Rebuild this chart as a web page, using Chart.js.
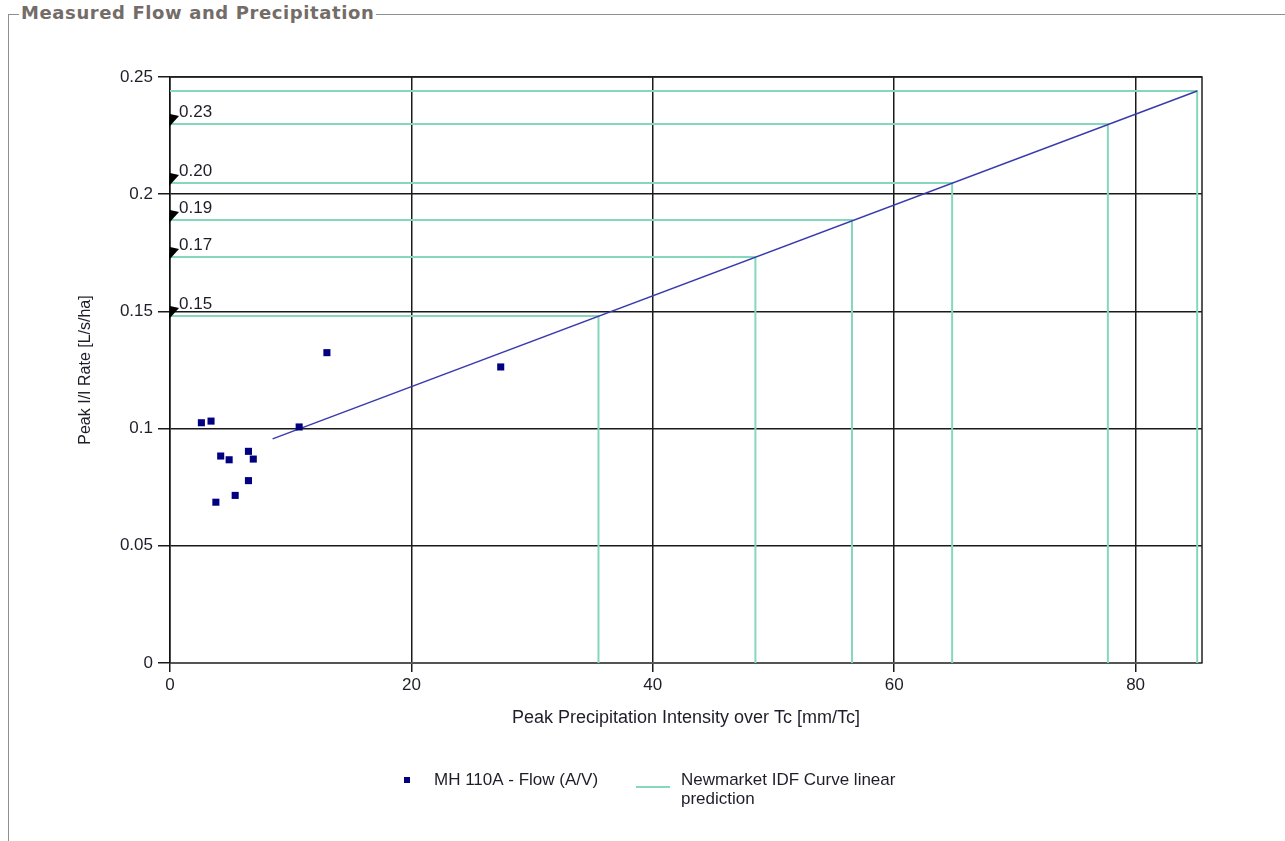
<!DOCTYPE html>
<html>
<head>
<meta charset="utf-8">
<script src="https://cdn.jsdelivr.net/npm/chart.js@4.4.1/dist/chart.umd.min.js"></script>
<style>
  html, body { margin:0; padding:0; background:#fff; }
  body { width:1285px; height:841px; overflow:hidden; position:relative; }
  .fs { position:absolute; left:8px; top:14px; width:1300px; height:860px;
        border-top:1px solid #8f8f8f; border-left:1px solid #8f8f8f; }
  .fs-title { position:absolute; left:19px; top:3px; padding:0 2px; background:#fff;
        font:bold 18px "DejaVu Sans", Verdana, sans-serif; letter-spacing:0.6px; color:#746c67; line-height:20px; }
  #c { position:absolute; left:0; top:0; }
</style>
</head>
<body>
<div class="fs"></div>
<div class="fs-title">Measured Flow and Precipitation</div>
<canvas id="c" width="1285" height="841"></canvas>
<script>
// ---- data ----
const flowLabel = 'MH 110A - Flow (A/V)';
const flowX = [2.6, 3.4, 13.0, 10.7, 4.2, 4.9, 6.5, 6.9, 6.5, 5.4, 3.8, 27.4];
const flowY = [0.1025, 0.1032, 0.1324, 0.1007, 0.0883, 0.0867, 0.0903, 0.0870, 0.0778, 0.0715, 0.0686, 0.1263];

const idfLabel = ['Newmarket IDF Curve linear', 'prediction'];
const idfX = [35.5, 48.5, 56.5, 64.8, 77.7, 85.1];
const idfY = [0.148, 0.1732, 0.189, 0.2048, 0.230, 0.244];

const trendX = [8.5, 85.1];
const trendY = [0.0956, 0.244];

const markY = [0.230, 0.2048, 0.189, 0.1732, 0.148];
const markText = ['0.23', '0.20', '0.19', '0.17', '0.15'];

const xTicks = [0, 20, 40, 60, 80];
const yTicks = [0, 0.05, 0.1, 0.15, 0.2, 0.25];

const xTitle = 'Peak Precipitation Intensity over Tc [mm/Tc]';
const yTitle = 'Peak I/I Rate [L/s/ha]';

// ---- build library data ----
const flowData = flowX.map((x, i) => ({x: x, y: flowY[i]}));
const idfData = [];
idfX.forEach((x, i) => {
  idfData.push({x: 0, y: idfY[i]}, {x: x, y: idfY[i]}, {x: x, y: 0}, {x: x, y: null});
});
const trendData = trendX.map((x, i) => ({x: x, y: trendY[i]}));

const FONT = '"Liberation Sans", Arial, sans-serif';
const NAVY = '#000080';
const GREEN = '#84d9bb';
const BLUE = '#3a3aae';
const TXT = '#1e1e2a';

const overlay = {
  id: 'overlay',
  beforeDatasetsDraw(chart) {
    const {ctx, chartArea: a} = chart;
    ctx.save();
    ctx.strokeStyle = '#222';
    ctx.lineWidth = 1.5;
    ctx.beginPath();
    ctx.moveTo(a.left, a.top);
    ctx.lineTo(a.right, a.top);
    ctx.lineTo(a.right, a.bottom);
    ctx.stroke();
    ctx.restore();
  },
  afterDatasetsDraw(chart) {
    const {ctx} = chart;
    const xs = chart.scales.x, ys = chart.scales.y;
    ctx.save();
    markY.forEach((v, i) => {
      const px = xs.getPixelForValue(0);
      const py = ys.getPixelForValue(v);
      ctx.fillStyle = '#000';
      ctx.beginPath();
      ctx.moveTo(px - 1, py + 3);
      ctx.lineTo(px, py - 10);
      ctx.lineTo(px + 9, py - 8);
      ctx.closePath();
      ctx.fill();
      ctx.font = '17px ' + FONT;
      ctx.fillStyle = TXT;
      ctx.textAlign = 'left';
      ctx.textBaseline = 'middle';
      ctx.fillText(markText[i], px + 9, py - 12);
    });
    ctx.restore();
  },
  afterDraw(chart) {
    const {ctx} = chart;
    ctx.save();
    ctx.font = '17px ' + FONT;
    ctx.textBaseline = 'middle';
    ctx.textAlign = 'left';
    // item 1: scatter
    ctx.fillStyle = NAVY;
    ctx.fillRect(404, 777, 6, 6);
    ctx.fillStyle = TXT;
    ctx.fillText(chart.data.datasets[0].label, 434, 780);
    // item 2: line
    ctx.strokeStyle = GREEN;
    ctx.lineWidth = 2;
    ctx.beginPath();
    ctx.moveTo(636, 787);
    ctx.lineTo(670, 787);
    ctx.stroke();
    ctx.fillStyle = TXT;
    const lbl = chart.data.datasets[1].label;
    lbl.forEach((t, i) => ctx.fillText(t, 681, 780 + i * 19));
    ctx.restore();
  }
};

new Chart(document.getElementById('c'), {
  type: 'scatter',
  data: {
    datasets: [
      { label: flowLabel, data: flowData, pointStyle: 'rect', pointRadius: 5, pointHoverRadius: 5,
        backgroundColor: NAVY, borderColor: NAVY, borderWidth: 0, order: 0 },
      { label: idfLabel, data: idfData, showLine: true, spanGaps: false, borderColor: GREEN,
        borderWidth: 2, pointRadius: 0, fill: false, order: 2 },
      { label: 'trend', data: trendData, showLine: true, borderColor: BLUE, borderWidth: 1.5,
        pointRadius: 0, fill: false, order: 1 }
    ]
  },
  options: {
    responsive: false,
    animation: false,
    devicePixelRatio: 1,
    layout: { padding: { left: 72, top: 77, right: 83, bottom: 108 } },
    plugins: { legend: { display: false }, tooltip: { enabled: false } },
    scales: {
      x: {
        type: 'linear', min: 0, max: 85.5,
        afterBuildTicks: s => { s.ticks = xTicks.map(v => ({value: v})); },
        afterFit: s => { s.height = 70; },
        grid: { color: '#1a1a1a', lineWidth: 1.5, tickLength: 9, drawTicks: true },
        border: { color: '#555', width: 2 },
        ticks: { padding: 3, color: TXT, font: { family: FONT, size: 17 }, callback: v => String(v) },
        title: { display: true, text: xTitle, color: TXT, font: { family: FONT, size: 18 } }
      },
      y: {
        type: 'linear', min: 0, max: 0.25,
        afterBuildTicks: s => { s.ticks = yTicks.map(v => ({value: v})); },
        afterFit: s => { s.width = 98; },
        grid: { color: '#1a1a1a', lineWidth: 1.5, tickLength: 12, drawTicks: true },
        border: { color: '#111', width: 1.5 },
        ticks: { padding: 5, color: TXT, font: { family: FONT, size: 17 }, callback: v => String(+v.toFixed(2)) },
        title: { display: true, text: yTitle, color: TXT, font: { family: FONT, size: 16 } }
      }
    }
  },
  plugins: [overlay]
});
</script>
</body>
</html>
